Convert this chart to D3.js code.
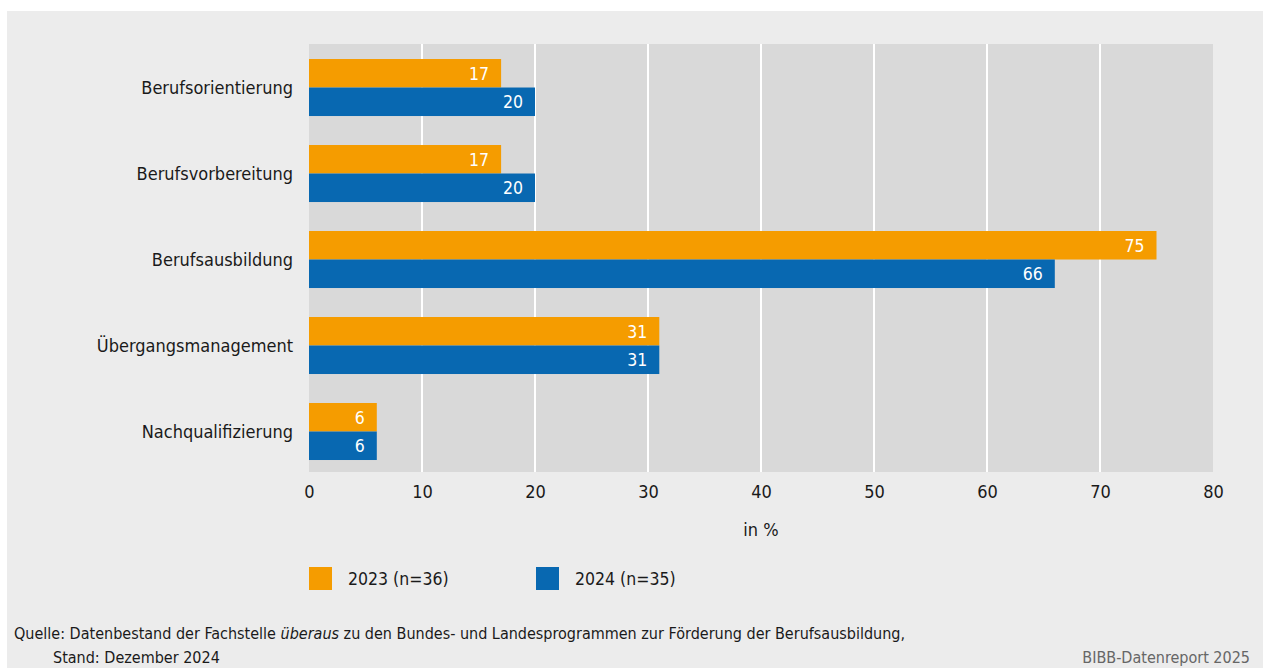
<!DOCTYPE html>
<html><head><meta charset="utf-8">
<script src="https://cdn.jsdelivr.net/npm/d3@7"></script>
<style>
html,body{margin:0;padding:0;background:#fff;}
svg{display:block;}
text{font-family:"DejaVu Sans Condensed","Liberation Sans Narrow",sans-serif;}
</style></head>
<body>
<svg id="c" width="1263" height="668"></svg>
<script>
const categories = ["Berufsorientierung","Berufsvorbereitung","Berufsausbildung","Übergangsmanagement","Nachqualifizierung"];
const seriesNames = ["2023 (n=36)","2024 (n=35)"];
const values2023 = [17,17,75,31,6];
const values2024 = [20,20,66,31,6];
const xTicks = [0,10,20,30,40,50,60,70,80];
const colors = ["#F59C00","#0868B1"];

const svg = d3.select("#c");
svg.append("rect").attr("x",7).attr("y",11).attr("width",1256).attr("height",657).attr("fill","#ECECEC");

const L=309,R=1213,T=44,B=472;
const x = d3.scaleLinear().domain([0,80]).range([L,R]);
const y = d3.scaleBand().domain(categories).range([T,B]).paddingInner(0.337).paddingOuter(0.157).align(0.556);
const y1 = d3.scaleBand().domain([0,1]).range([0,y.bandwidth()]);

svg.append("rect").attr("x",L).attr("y",T).attr("width",R-L).attr("height",B-T).attr("fill","#D9D9D9");

// grid
svg.append("g").selectAll("line").data(xTicks.filter(d=>d>0&&d<80)).join("line")
  .attr("x1",d=>x(d)).attr("x2",d=>x(d)).attr("y1",T).attr("y2",B)
  .attr("stroke","#fff").attr("stroke-width",2);

const data = categories.map((c,i)=>({c, v:[values2023[i],values2024[i]]}));
const g = svg.append("g").selectAll("g").data(data).join("g")
  .attr("transform",d=>`translate(0,${y(d.c)})`);
g.selectAll("rect").data(d=>d.v).join("rect")
  .attr("x",x(0)).attr("y",(d,i)=>y1(i)).attr("width",d=>x(d)-x(0)).attr("height",y1.bandwidth())
  .attr("fill",(d,i)=>colors[i]);
g.selectAll("text").data(d=>d.v).join("text")
  .attr("x",d=>x(d)-12).attr("y",(d,i)=>y1(i)+y1.bandwidth()/2).attr("dy","0.36em")
  .attr("text-anchor","end").attr("fill","#fff").attr("font-size",17.5).text(d=>d);

// category labels
svg.append("g").selectAll("text").data(categories).join("text")
  .attr("x",293).attr("y",d=>y(d)+y.bandwidth()/2).attr("dy","0.36em")
  .attr("text-anchor","end").attr("font-size",18).attr("fill","#1a1a1a").text(d=>d);

// x axis
const ax = svg.append("g").attr("transform",`translate(0,${B})`)
  .call(d3.axisBottom(x).tickValues(xTicks).tickSize(0).tickPadding(13));
ax.select(".domain").remove();
ax.selectAll("text").attr("font-size",18).attr("fill","#1a1a1a").attr("font-family",null);

svg.append("text").attr("x",(L+R)/2).attr("y",530).attr("dy","0.36em").attr("text-anchor","middle")
  .attr("font-size",18).attr("fill","#1a1a1a").text("in %");

// legend
const lx=[309,536];
const lg = svg.append("g").selectAll("g").data(seriesNames).join("g")
  .attr("transform",(d,i)=>`translate(${lx[i]},567)`);
lg.append("rect").attr("width",23).attr("height",23).attr("fill",(d,i)=>colors[i]);
lg.append("text").attr("x",39).attr("y",11.5).attr("dy","0.36em").attr("font-size",17.5).attr("fill","#1a1a1a").text(d=>d);

// footer
const f1 = svg.append("text").attr("x",14).attr("y",639).attr("font-size",16).attr("fill","#1a1a1a");
f1.append("tspan").text("Quelle: Datenbestand der Fachstelle ");
f1.append("tspan").attr("font-style","italic").text("überaus");
f1.append("tspan").text(" zu den Bundes- und Landesprogrammen zur Förderung der Berufsausbildung,");
svg.append("text").attr("x",53).attr("y",663).attr("font-size",16).attr("fill","#1a1a1a").text("Stand: Dezember 2024");
svg.append("text").attr("x",1250).attr("y",663).attr("text-anchor","end").attr("font-size",16).attr("fill","#666").text("BIBB-Datenreport 2025");
</script>
</body></html>
